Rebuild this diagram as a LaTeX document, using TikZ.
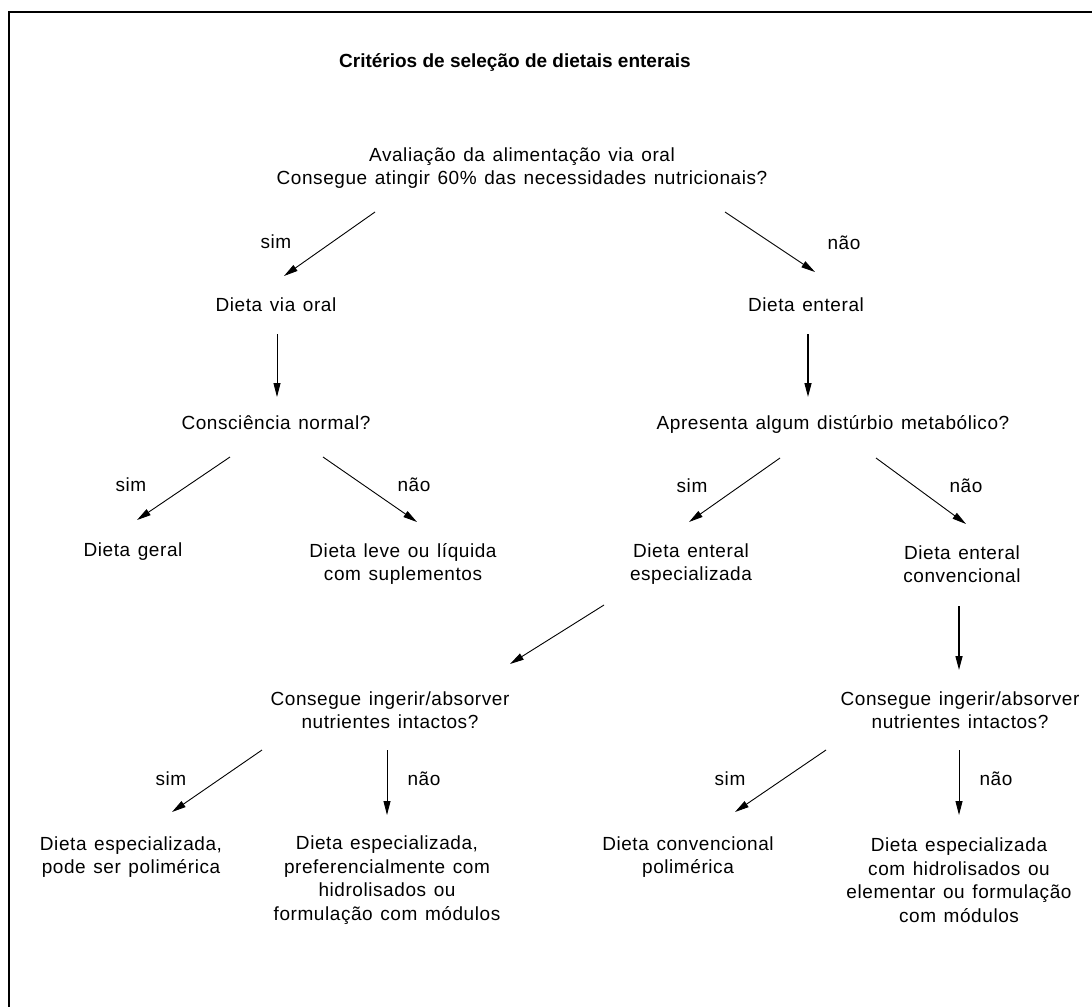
\documentclass[tikz,border=0pt]{standalone}
\usepackage{fontspec}
\setmainfont{Liberation Sans}[LetterSpace=3,WordSpace=1.3]
\newfontfamily\headfont{Liberation Sans}
\usetikzlibrary{arrows.meta}

\begin{document}
\begin{tikzpicture}[x=1pt, y=-1pt,
    box/.style={align=center, font=\fontsize{19}{23.5}\selectfont, inner sep=0pt},
    answer/.style={font=\fontsize{19}{23.5}\selectfont, inner sep=0pt},
    heading/.style={font=\headfont\bfseries\fontsize{19}{24}\selectfont, inner sep=0pt},
    arrow/.style={-{Triangle[length=14pt,width=7pt]}, line width=0.9pt},
    heavy/.style={arrow, line width=1.4pt}
]
\useasboundingbox (0,0) rectangle (1092,1007);

% Frame
\draw[line width=1.2pt] (1092,12) -- (9,12) -- (9,1007);

% Nodes
\node[heading] (Title) at (515,63) {Critérios de seleção de dietais enterais};

\node[box] (OralCheck) at (522,168) {Avaliação da alimentação via oral\\ Consegue atingir 60\% das necessidades nutricionais?};

\node[box] (ViaOral) at (276,305) {Dieta via oral};
\node[box] (Enteral) at (806,305) {Dieta enteral};

\node[box] (Consc) at (276,423) {Consciência normal?};
\node[box] (Disturb) at (833,424) {Apresenta algum distúrbio metabólico?};

\node[box] (Geral) at (133,552) {Dieta geral};
\node[box] (Leve) at (403,564) {Dieta leve ou líquida\\ com suplementos};
\node[box] (EntEspec) at (691,564) {Dieta enteral\\ especializada};
\node[box] (EntConv) at (962,564) {Dieta enteral\\ convencional};

\node[box] (IngestL) at (390,710) {Consegue ingerir/absorver\\ nutrientes intactos?};
\node[box] (IngestR) at (960,710) {Consegue ingerir/absorver\\ nutrientes intactos?};

\node[box] (EspecPolim) at (131,857) {Dieta especializada,\\ pode ser polimérica};
\node[box] (EspecHidro) at (387,880) {Dieta especializada,\\ preferencialmente com\\ hidrolisados ou\\ formulação com módulos};
\node[box] (ConvPolim) at (688,857) {Dieta convencional\\ polimérica};
\node[box] (EspecElem) at (959,880) {Dieta especializada\\ com hidrolisados ou\\ elementar ou formulação\\ com módulos};

% Answers
\node[answer] (SimA) at (276,242) {sim};
\node[answer] (NaoA) at (844,243) {não};
\node[answer] (SimB) at (131,485) {sim};
\node[answer] (NaoB) at (414,485) {não};
\node[answer] (SimC) at (692,486) {sim};
\node[answer] (NaoC) at (966,486) {não};
\node[answer] (SimD) at (171,779) {sim};
\node[answer] (NaoD) at (424,779) {não};
\node[answer] (SimE) at (730,779) {sim};
\node[answer] (NaoE) at (996,779) {não};

% Edges
\draw[arrow] ([shift={(-147,44)}]OralCheck.center) -- ([shift={(8,-29)}]ViaOral.center);
\draw[arrow] ([shift={(203,44)}]OralCheck.center) -- ([shift={(9,-33)}]Enteral.center);
\draw[arrow] ([shift={(1,29)}]ViaOral.center) -- ([shift={(1,-26)}]Consc.center);
\draw[heavy] ([shift={(2,29)}]Enteral.center) -- ([shift={(-25,-27)}]Disturb.center);

\draw[arrow] ([shift={(-46,34)}]Consc.center) -- ([shift={(4,-32)}]Geral.center);
\draw[arrow] ([shift={(47,34)}]Consc.center) -- ([shift={(14,-42)}]Leve.center);
\draw[arrow] ([shift={(-53,34)}]Disturb.center) -- ([shift={(-2,-42)}]EntEspec.center);
\draw[arrow] ([shift={(43,34)}]Disturb.center) -- ([shift={(4,-40)}]EntConv.center);

\draw[arrow] ([shift={(-87,41)}]EntEspec.center) -- ([shift={(120,-46)}]IngestL.center);
\draw[heavy] ([shift={(-3,42)}]EntConv.center) -- ([shift={(-1,-40)}]IngestR.center);

\draw[arrow] ([shift={(-128,40)}]IngestL.center) -- ([shift={(41,-45)}]EspecPolim.center);
\draw[arrow] ([shift={(-3,40)}]IngestL.center) -- ([shift={(0,-65)}]EspecHidro.center);
\draw[arrow] ([shift={(-134,40)}]IngestR.center) -- ([shift={(47,-45)}]ConvPolim.center);
\draw[arrow] ([shift={(-1,40)}]IngestR.center) -- ([shift={(0,-65)}]EspecElem.center);

\end{tikzpicture}
\end{document}
